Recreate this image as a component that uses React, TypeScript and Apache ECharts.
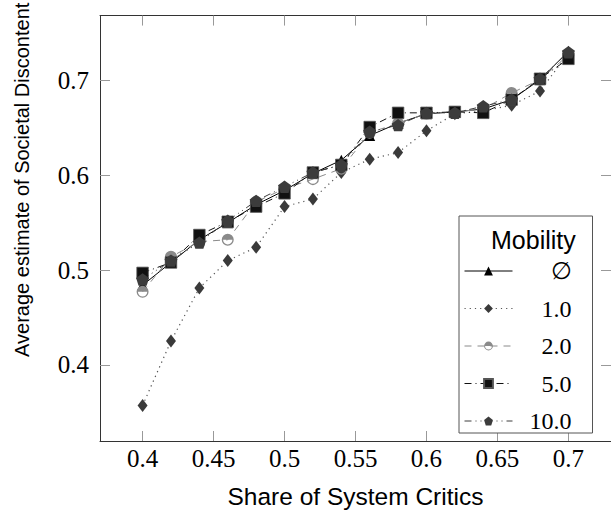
import React, { useEffect, useRef } from "react";
import * as echarts from "echarts";

const shares = [0.40, 0.42, 0.44, 0.46, 0.48, 0.50, 0.52, 0.54, 0.56, 0.58, 0.60, 0.62, 0.64, 0.66, 0.68, 0.70];
const mobNone = [0.484, 0.508, 0.532, 0.550, 0.569, 0.584, 0.602, 0.616, 0.642, 0.655, 0.665, 0.667, 0.670, 0.680, 0.701, 0.731];
const mob1 = [0.357, 0.425, 0.481, 0.510, 0.524, 0.567, 0.575, 0.603, 0.617, 0.624, 0.647, 0.665, 0.668, 0.674, 0.689, 0.729];
const mob2 = [0.477, 0.514, 0.530, 0.532, 0.572, 0.586, 0.596, 0.607, 0.645, 0.655, 0.665, 0.667, 0.670, 0.687, 0.701, 0.727];
const mob5 = [0.497, 0.508, 0.537, 0.551, 0.567, 0.581, 0.603, 0.611, 0.651, 0.666, 0.666, 0.667, 0.666, 0.680, 0.702, 0.723];
const mob10 = [0.490, 0.510, 0.529, 0.552, 0.573, 0.588, 0.603, 0.611, 0.646, 0.653, 0.666, 0.666, 0.673, 0.680, 0.702, 0.730];

const xTicks = [0.4, 0.45, 0.5, 0.55, 0.6, 0.65, 0.7];
const yTicks = [0.4, 0.5, 0.6, 0.7];
const seriesNames = ["\u2205", "1.0", "2.0", "5.0", "10.0"];

const SERIF = "'Liberation Serif', 'DejaVu Serif', serif";
const SANS = "'Liberation Sans', 'DejaVu Sans', sans-serif";

const pentagon = "path://M0,-1 L0.951,-0.309 L0.588,0.809 L-0.588,0.809 L-0.951,-0.309 Z";
const halfCircle =
  "path://M-1,0 A1,1 0 0 1 1,0 Z M1,0 A1,1 0 0 1 -1,0 L-0.78,0 A0.78,0.78 0 0 0 0.78,0 Z";

const fmt = (v: number) => String(Math.round(v * 100) / 100);

export default function App() {
  const ref = useRef<HTMLDivElement>(null);
  useEffect(() => {
    if (!ref.current) return;
    const chart = echarts.init(ref.current, undefined, { renderer: "svg" });
    const pts = (vals: number[]) => shares.map((s, i) => [s, vals[i]]);
    const axisCommon = {
      type: "value" as const,
      splitLine: { show: false },
      axisLine: { show: true, onZero: false, lineStyle: { color: "#333", width: 1 } },
    };
    const xMin = 0.37, xMax = 0.73, yMin = 0.3195, yMax = 0.7687;
    const option: any = {
      animation: false,
      backgroundColor: "#fff",
      grid: { left: 100, right: -8, top: 10, bottom: 72.3 },
      xAxis: [
        {
          ...axisCommon,
          position: "bottom",
          min: xMin,
          max: xMax,
          axisTick: { show: true, inside: true, length: 10, customValues: xTicks, lineStyle: { color: "#999" } },
          axisLabel: { customValues: xTicks, formatter: fmt, margin: 5, fontFamily: SERIF, fontSize: 25, color: "#000" },
          name: "Share of System Critics",
          nameLocation: "middle",
          nameGap: 43,
          nameTextStyle: { fontFamily: SANS, fontSize: 24.5, color: "#000" },
        },
        {
          ...axisCommon,
          position: "top",
          min: xMin,
          max: xMax,
          axisTick: { show: true, inside: true, length: 10, customValues: xTicks, lineStyle: { color: "#999" } },
          axisLabel: { show: false },
        },
      ],
      yAxis: [
        {
          ...axisCommon,
          position: "left",
          min: yMin,
          max: yMax,
          axisTick: { show: true, inside: true, length: 10, customValues: yTicks, lineStyle: { color: "#999" } },
          axisLabel: { customValues: yTicks, formatter: fmt, margin: 11, fontFamily: SERIF, fontSize: 25, color: "#000" },
          name: "Average estimate of Societal Discontent",
          nameLocation: "middle",
          nameGap: 68,
          nameTextStyle: { fontFamily: SANS, fontSize: 20, color: "#000", padding: [0, 0, 0, 97] },
        },
        {
          ...axisCommon,
          position: "right",
          min: yMin,
          max: yMax,
          axisTick: { show: true, inside: true, length: 10, customValues: yTicks, lineStyle: { color: "#999" } },
          axisLabel: { show: false },
        },
      ],
      legend: {
        show: true,
        selectedMode: false,
        orient: "vertical",
        left: 459,
        top: 216,
        padding: [43, 21, 0, 5],
        itemGap: 13.5,
        itemWidth: 48,
        itemHeight: 11,
        itemTextGap: 5,
        borderColor: "#555",
        borderWidth: 1,
        borderRadius: 0,
        backgroundColor: "#fff",
        lineStyle: { width: 1 },
        data: seriesNames,
        formatter: (name: string) => `{r|${name}}`,
        textStyle: {
          rich: {
            r: { width: 54, align: "right", fontFamily: SERIF, fontSize: 24, lineHeight: 20, color: "#000" },
          },
        },
      },
      graphic: [
        {
          type: "text",
          left: 491,
          top: 227,
          z: 100,
          style: { text: "Mobility", fontFamily: SANS, fontSize: 25, fill: "#000" },
        },
      ],
      series: [
        {
          name: seriesNames[0],
          type: "line",
          data: pts(mobNone),
          symbol: "triangle",
          symbolSize: 11,
          itemStyle: { color: "#000" },
          lineStyle: { color: "#000", width: 1, type: "solid" },
        },
        {
          name: seriesNames[1],
          type: "line",
          data: pts(mob1),
          symbol: "diamond",
          symbolSize: [10, 13],
          itemStyle: { color: "#3a3a3a" },
          lineStyle: { color: "#555", width: 1.2, type: [1.2, 4] },
        },
        {
          name: seriesNames[2],
          type: "line",
          data: pts(mob2),
          symbol: halfCircle,
          symbolKeepAspect: true,
          symbolSize: 12,
          itemStyle: { color: "#8a8a8a" },
          lineStyle: { color: "#8a8a8a", width: 1, type: [7, 6] },
        },
        {
          name: seriesNames[3],
          type: "line",
          data: pts(mob5),
          symbol: "rect",
          symbolSize: 11.5,
          itemStyle: { color: "#111", borderColor: "#555", borderWidth: 0.8 },
          lineStyle: { color: "#111", width: 1, type: [7, 4, 1, 4] },
        },
        {
          name: seriesNames[4],
          type: "line",
          data: pts(mob10),
          symbol: pentagon,
          symbolKeepAspect: true,
          symbolSize: 13,
          itemStyle: { color: "#3c3c3c" },
          lineStyle: { color: "#3c3c3c", width: 1, type: [7, 4, 1, 4, 1, 4] },
        },
      ],
    };
    chart.setOption(option);
    return () => chart.dispose();
  }, []);
  return (
    <div
      ref={ref}
      style={{ position: "fixed", left: 0, top: 0, width: 611, height: 514, background: "#fff" }}
    />
  );
}
